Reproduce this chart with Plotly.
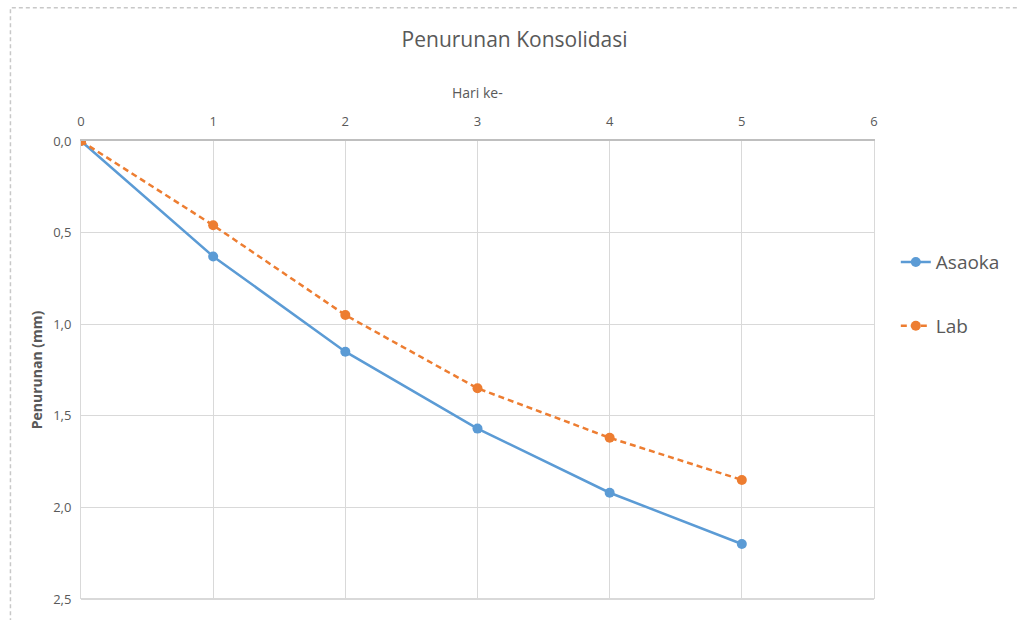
import plotly.graph_objects as go

# Hari ke- (day number)
days = [0, 1, 2, 3, 4, 5]
# Settlement (mm)
asaoka = [0.00, 0.63, 1.15, 1.57, 1.92, 2.20]
lab = [0.00, 0.46, 0.95, 1.35, 1.62, 1.85]

x_ticks = [0, 1, 2, 3, 4, 5, 6]
y_ticks = [0.0, 0.5, 1.0, 1.5, 2.0, 2.5]
y_tick_labels = ["0,0", "0,5", "1,0", "1,5", "2,0", "2,5"]

FONT = "Liberation Sans Narrow, Open Sans, sans-serif"
TEXT = "#595959"
GRID = "#d9d9d9"

fig = go.Figure()
fig.add_trace(go.Scatter(
    x=days, y=asaoka, name="Asaoka", mode="lines+markers",
    line=dict(color="#5B9BD5", width=2.5),
    marker=dict(size=10, color="#5B9BD5"),
    legendgroup="a",
))
fig.add_trace(go.Scatter(
    x=days, y=lab, name="Lab", mode="lines+markers",
    line=dict(color="#ED7D31", width=2.5, dash="6px,4px"),
    marker=dict(size=10, color="#ED7D31"),
    legendgroup="b",
))

fig.update_layout(
    width=1017, height=620,
    margin=dict(l=81, r=138, t=141, b=15),
    paper_bgcolor="white", plot_bgcolor="white",
    font=dict(family=FONT, color=TEXT),
    title=dict(text="Penurunan Konsolidasi", x=0.506, xanchor="center",
               y=1 - 40 / 620, yanchor="middle", yref="container",
               font=dict(size=21, color=TEXT, family=FONT)),
    xaxis=dict(
        side="top", range=[0, 6], tickvals=x_ticks,
        showgrid=True, gridcolor=GRID, gridwidth=1,
        zeroline=False, showline=True, linecolor="#bfbfbf", linewidth=2,
        mirror=False, ticks="", ticklabelstandoff=8,
        tickfont=dict(size=13, color=TEXT, family=FONT),
    ),
    yaxis=dict(
        autorange=False, range=[2.5, 0], tickvals=y_ticks, ticktext=y_tick_labels,
        showgrid=True, gridcolor=GRID, gridwidth=1,
        zeroline=False, showline=True, linecolor=GRID, linewidth=1, mirror=True,
        ticks="", ticklabelstandoff=6,
        tickfont=dict(size=13, color=TEXT, family=FONT),
        title=dict(text="<b>Penurunan (mm)</b>", standoff=7,
                   font=dict(size=14, color=TEXT, family=FONT)),
    ),
    legend=dict(
        x=1.0275, xanchor="left", y=0.777, yanchor="top",
        font=dict(size=19, color=TEXT, family=FONT),
        traceorder="grouped", tracegroupgap=36,
        bgcolor="rgba(0,0,0,0)",
    ),
    showlegend=True,
)

# x-axis title placed above the top tick labels
fig.add_annotation(text="Hari ke-", xref="paper", yref="paper",
                   x=0.5, y=1 + 49 / 464, xanchor="center", yanchor="middle",
                   showarrow=False, font=dict(size=14, color=TEXT, family=FONT))

# bottom edge of the plot area
fig.add_shape(type="line", xref="paper", yref="paper", x0=0, x1=1, y0=0, y1=0,
              line=dict(color=GRID, width=2))

# dashed frame around the chart area
fig.add_shape(type="rect", xref="paper", yref="paper",
              x0=-71 / 798, x1=1 + 197 / 798, y0=-40 / 464, y1=1 + 135 / 464,
              line=dict(color="#c8c8c8", width=1.5, dash="4px,3px"),
              fillcolor="rgba(0,0,0,0)", layer="below")

fig.write_html("out.html")
